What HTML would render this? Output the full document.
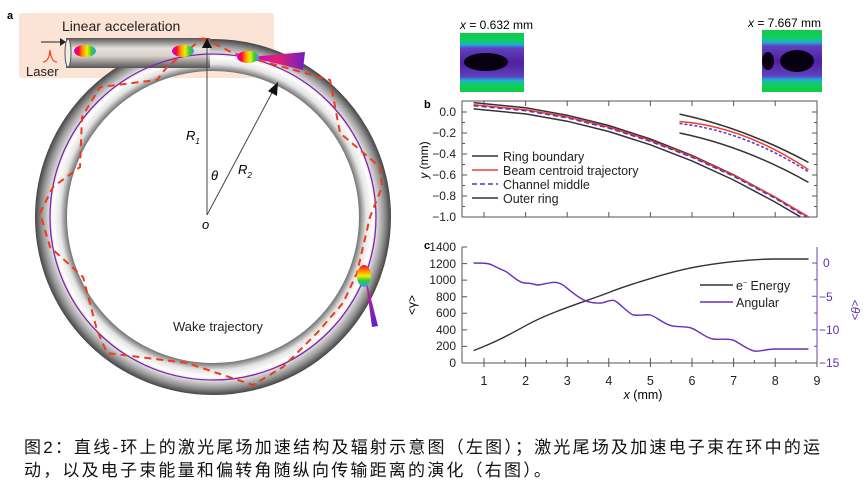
<!DOCTYPE html>
<html><head><meta charset="utf-8"><style>
html,body{margin:0;padding:0;background:#fff;width:865px;height:488px;overflow:hidden}
svg{position:absolute;left:0;top:0}
.cap{position:absolute;left:24px;font-family:"Liberation Sans","Noto Sans CJK SC",sans-serif;font-size:17px;color:#111;white-space:nowrap;letter-spacing:2.2px}
</style></head><body>
<svg width="865" height="488" viewBox="0 0 865 488" font-family="Liberation Sans, sans-serif">
<defs>
<radialGradient id="ring" cx="213" cy="217" r="178" gradientUnits="userSpaceOnUse">
<stop offset="0.81" stop-color="#555"/><stop offset="0.86" stop-color="#e4e4e4"/><stop offset="0.9" stop-color="#fff"/><stop offset="0.96" stop-color="#999"/><stop offset="1" stop-color="#444"/></radialGradient>
<linearGradient id="tube" x1="0" y1="0" x2="0" y2="1"><stop offset="0" stop-color="#555"/><stop offset="0.35" stop-color="#e8e2dc"/><stop offset="0.6" stop-color="#d8d0ca"/><stop offset="1" stop-color="#555"/></linearGradient>
<linearGradient id="rb" x1="0" y1="0" x2="1" y2="0"><stop offset="0" stop-color="#c0f"/><stop offset="0.2" stop-color="#f03"/><stop offset="0.4" stop-color="#f90"/><stop offset="0.6" stop-color="#ee0"/><stop offset="0.8" stop-color="#3c3"/><stop offset="1" stop-color="#39f"/></linearGradient>
<linearGradient id="rbv" x1="0" y1="0" x2="0" y2="1"><stop offset="0" stop-color="#f03"/><stop offset="0.3" stop-color="#f90"/><stop offset="0.5" stop-color="#ee0"/><stop offset="0.7" stop-color="#3c3"/><stop offset="1" stop-color="#39f"/></linearGradient>
<linearGradient id="cone" x1="0" y1="0" x2="1" y2="0"><stop offset="0" stop-color="#c0c"/><stop offset="0.5" stop-color="#e0207a"/><stop offset="1" stop-color="#7020c0"/></linearGradient>
<linearGradient id="conev" x1="0" y1="0" x2="0" y2="1"><stop offset="0" stop-color="#e02080"/><stop offset="1" stop-color="#6020d0"/></linearGradient>
<linearGradient id="ins" x1="0" y1="0" x2="0" y2="1"><stop offset="0" stop-color="#1c4"/><stop offset="0.14" stop-color="#1c6"/><stop offset="0.2" stop-color="#2ad"/><stop offset="0.26" stop-color="#6040c0"/><stop offset="0.5" stop-color="#5020a0"/><stop offset="0.74" stop-color="#6040c0"/><stop offset="0.8" stop-color="#2ad"/><stop offset="0.86" stop-color="#1c6"/><stop offset="1" stop-color="#1c4"/></linearGradient>
</defs>
<rect x="19" y="13" width="255" height="65" rx="3" fill="#fbe3d6"/>
<text x="7" y="19" font-size="11" font-weight="bold">a</text>
<circle cx="213" cy="217" r="162" fill="none" stroke="url(#ring)" stroke-width="32"/>
<rect x="66" y="38" width="144" height="30" fill="url(#tube)"/>
<ellipse cx="68" cy="53" rx="3" ry="14" fill="#f2ece6" stroke="#555"/>
<circle cx="213" cy="217" r="163" fill="none" stroke="#8020b0" stroke-width="1.3"/>
<polyline points="203,38 233,53 330,80 340,133 380,167 382,187 370,217 357,273 343,303 317,333 283,367 253,385 187,363 107,353 97,330 83,277 50,247 40,213 53,187 80,167 82,117 100,87 157,80 167,67 203,38" fill="none" stroke="#f03a1a" stroke-width="2" stroke-dasharray="7,5"/>
<text x="62" y="31" font-size="14" fill="#222">Linear  acceleration</text>
<text x="26" y="76" font-size="13" fill="#222">Laser</text>
<line x1="41" y1="42" x2="60" y2="42" stroke="#222"/><polygon points="60,38 66,42 60,46" fill="#222"/>
<path d="M43,62 Q49,62 50,50 Q51,62 57,62" fill="none" stroke="#f04020" stroke-width="1.2"/>
<ellipse cx="85" cy="51" rx="11" ry="6" fill="url(#rb)"/>
<ellipse cx="183" cy="51" rx="11" ry="6" fill="url(#rb)"/>
<polygon points="250,57 305,52 303,70" fill="url(#cone)"/>
<ellipse cx="248" cy="57" rx="11" ry="6" fill="url(#rb)"/>
<polygon points="365,275 372,327 378,326" fill="url(#conev)"/>
<ellipse cx="364" cy="276" rx="7" ry="11" fill="url(#rbv)"/>
<line x1="207" y1="215" x2="207" y2="44" stroke="#444"/><polygon points="202,48 207,38 212,48" fill="#111"/>
<line x1="207" y1="215" x2="274" y2="89" stroke="#444"/><polygon points="268,91 278,82 277,96" fill="#111"/>
<text x="186" y="140" font-size="13" font-style="italic">R<tspan font-size="8" dy="4">1</tspan></text>
<text x="238" y="174" font-size="13" font-style="italic">R<tspan font-size="8" dy="4">2</tspan></text>
<text x="211" y="180" font-size="13" font-style="italic">θ</text>
<text x="202" y="229" font-size="13" font-style="italic">o</text>
<text x="173" y="331" font-size="13" fill="#222">Wake trajectory</text>
<text x="460" y="29" font-size="12"><tspan font-style="italic">x</tspan> = 0.632 mm</text>
<text x="748" y="27" font-size="12"><tspan font-style="italic">x</tspan> = 7.667 mm</text>
<rect x="460" y="33" width="64" height="59" fill="url(#ins)"/>
<ellipse cx="486" cy="62" rx="22" ry="9" fill="#080010"/>
<rect x="762" y="30" width="60" height="62" fill="url(#ins)"/>
<ellipse cx="797" cy="61" rx="17" ry="11" fill="#080010"/><ellipse cx="768" cy="61" rx="6" ry="9" fill="#080010"/>
<text x="424" y="108" font-size="11" font-weight="bold">b</text>
<g font-size="12" text-anchor="end" fill="#222">
<text x="456" y="116">0.0</text><text x="456" y="137">−0.2</text><text x="456" y="158">−0.4</text><text x="456" y="179">−0.6</text><text x="456" y="200">−0.8</text><text x="456" y="221">−1.0</text></g>
<text transform="translate(428,160) rotate(-90)" font-size="12" text-anchor="middle"><tspan font-style="italic">y</tspan> (mm)</text>
<rect x="462" y="101" width="355" height="116" fill="none" stroke="#555"/>
<g stroke="#555">
<path d="M484,217v-5M525.6,217v-5M567.2,217v-5M608.8,217v-5M650.4,217v-5M692,217v-5M733.6,217v-5M775.2,217v-5M484,101v5M525.6,101v5M567.2,101v5M608.8,101v5M650.4,101v5M692,101v5M733.6,101v5M775.2,101v5"/>
<path d="M462,112h5M462,133h5M462,154h5M462,175h5M462,196h5M817,112h-5M817,133h-5M817,154h-5M817,175h-5M817,196h-5M462,122.5h3M462,143.5h3M462,164.5h3M462,185.5h3M462,206.5h3M817,122.5h-3M817,143.5h-3M817,164.5h-3M817,185.5h-3M817,206.5h-3"/>
</g>
<g fill="none" stroke-width="1.5">
<polyline points="473.6,102.6 525.6,107.7 567.2,115.2 608.8,125.5 650.4,139 692,155.4 733.6,174.8 775.2,197.2 808.5,217.2" stroke="#333"/>
<polyline points="473.6,108.9 525.6,113.9 567.2,121.2 608.8,131.5 650.4,144.8 692,160.9 733.6,180 775.2,202.1 800.2,216.7" stroke="#333"/>
<polyline points="473.6,104.7 525.6,109.7 567.2,116.9 608.8,127.1 650.4,140.4 692,156.3 733.6,175.3 775.2,197.3 808.5,216.8" stroke="#f53a2a"/>
<polyline points="473.6,105.7 525.6,110.7 567.2,117.9 608.8,128.1 650.4,141.4 692,157.3 733.6,176.3 775.2,198.3 806,217" stroke="#6030c0" stroke-dasharray="5,3"/>
<path d="M679.5,114.1 Q744,127.7 808.5,162.4" stroke="#333"/>
<path d="M679.5,121.5 Q744,126.4 808.5,169.7" stroke="#f53a2a"/>
<path d="M679.5,123.5 Q744,130.9 808.5,171.9" stroke="#6030c0" stroke-dasharray="3,2"/>
<path d="M679.5,133 Q744,146.1 808.5,182.4" stroke="#333"/>
<line x1="472" y1="156" x2="498" y2="156" stroke="#333"/>
<line x1="472" y1="170" x2="498" y2="170" stroke="#f53a2a"/>
<line x1="472" y1="184" x2="498" y2="184" stroke="#6030c0" stroke-dasharray="5,3"/>
<line x1="472" y1="198" x2="498" y2="198" stroke="#333"/>
</g>
<g font-size="12.5" fill="#222"><text x="503" y="161">Ring boundary</text><text x="503" y="175">Beam centroid trajectory</text><text x="503" y="189">Channel middle</text><text x="503" y="203">Outer ring</text></g>
<text x="424" y="249" font-size="11" font-weight="bold">c</text>
<g font-size="12" text-anchor="end" fill="#222">
<text x="456" y="251">1400</text><text x="456" y="268">1200</text><text x="456" y="284">1000</text><text x="456" y="301">800</text><text x="456" y="317">600</text><text x="456" y="334">400</text><text x="456" y="350">200</text><text x="456" y="367">0</text></g>
<text transform="translate(416,305) rotate(-90)" font-size="12" text-anchor="middle">&lt;γ&gt;</text>
<g font-size="12" fill="#6030b0"><text x="823" y="267">0</text><text x="819" y="301">−5</text><text x="819" y="334">−10</text><text x="819" y="367">−15</text></g>
<text transform="translate(851,310) rotate(90)" font-size="12" text-anchor="middle" fill="#6030b0">&lt;<tspan font-style="italic">θ</tspan>&gt;</text>
<line x1="462" y1="247" x2="462" y2="363" stroke="#555"/>
<line x1="462" y1="363" x2="817" y2="363" stroke="#555"/>
<line x1="817" y1="247" x2="817" y2="363" stroke="#7040b0"/>
<g stroke="#555"><path d="M462,247h5M462,263.6h5M462,280.1h5M462,296.7h5M462,313.3h5M462,329.9h5M462,346.4h5M484,363v-5M525.6,363v-5M567.2,363v-5M608.8,363v-5M650.4,363v-5M692,363v-5M733.6,363v-5M775.2,363v-5M817,363v-5M484,363v4M525.6,363v4M567.2,363v4M608.8,363v4M650.4,363v4M692,363v4M733.6,363v4M775.2,363v4M817,363v4M504.8,363v-3M546.4,363v-3M588,363v-3M629.6,363v-3M671.2,363v-3M712.8,363v-3M754.4,363v-3M796,363v-3"/></g>
<g stroke="#7040b0"><path d="M817,263h-5M817,296.3h-5M817,329.7h-5M817,279.7h-3M817,313h-3M817,346.3h-3"/></g>
<g font-size="12.5" text-anchor="middle" fill="#222"><text x="484" y="385">1</text><text x="525.6" y="385">2</text><text x="567.2" y="385">3</text><text x="608.8" y="385">4</text><text x="650.4" y="385">5</text><text x="692" y="385">6</text><text x="733.6" y="385">7</text><text x="775.2" y="385">8</text><text x="817" y="385">9</text></g>
<text x="643" y="399" font-size="12.5" text-anchor="middle"><tspan font-style="italic">x</tspan> (mm)</text>
<path fill="none" stroke="#333" stroke-width="1.4" d="M473.6,350.6 C490,344 500,340 525.6,325.7 S590,300 608.8,292.5 S670,272 692,267.7 S750,259 775.2,259 L808.5,259"/>
<path fill="none" stroke="#6a2cc0" stroke-width="1.4" d="M473.6,263 C482,263 488,263 492,265 S500,269 504.8,271 S518,283 525.6,283 S534,285 538.1,285 S550,282 554.7,282.3 S562,284 567.2,288.3 S582,300 588,301.7 S596,303 600.5,303 S608,300 613,300.3 S628,314 633.8,315 S646,314 650.4,315 S664,324 671.2,325.7 S686,326 692,328.3 S706,338 712.8,339 S728,338 733.6,340.3 S748,350 754.4,351 S765,349 775.2,349 L808.5,349"/>
<line x1="700" y1="285" x2="733" y2="285" stroke="#333" stroke-width="1.5"/>
<line x1="700" y1="302" x2="733" y2="302" stroke="#6a2cc0" stroke-width="1.5"/>
<g font-size="12.5" fill="#222"><text x="736" y="290">e<tspan font-size="7" dy="-5">−</tspan><tspan dy="5"> Energy</tspan></text><text x="736" y="307">Angular</text></g>
</svg>
<div class="cap" style="top:433px">图2：直线-环上的激光尾场加速结构及辐射示意图（左图）；激光尾场及加速电子束在环中的运</div>
<div class="cap" style="top:456px">动，以及电子束能量和偏转角随纵向传输距离的演化（右图）。</div>
</body></html>
